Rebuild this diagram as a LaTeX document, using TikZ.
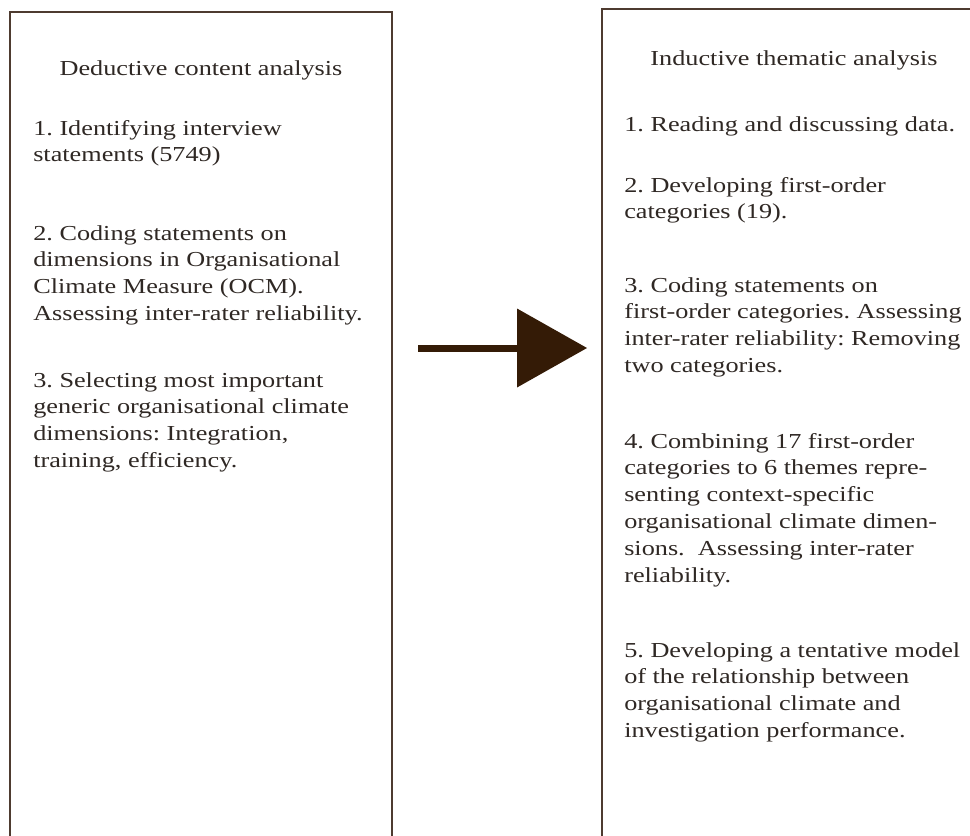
\documentclass[tikz,border=0pt]{standalone}
\usepackage{fontspec}
\setmainfont{Liberation Serif}[FakeStretch=1.23]
\usetikzlibrary{arrows.meta}
\definecolor{framebrown}{HTML}{4E3B30}
\definecolor{arrowbrown}{HTML}{341B06}
\definecolor{inkgray}{HTML}{2F2824}
\begin{document}
\frenchspacing
\begin{tikzpicture}[x=0.75pt,y=-0.75pt,
  panel/.style={draw=framebrown, line width=1.5pt, fill=white, inner sep=0pt, anchor=north west},
  ln/.style={anchor=base west, inner sep=0pt, text=inkgray, font=\fontsize{16pt}{20pt}\selectfont},
  head/.style={anchor=base, inner sep=0pt, text=inkgray, font=\fontsize{16pt}{20pt}\selectfont},
  flow/.style={draw=arrowbrown, line width=5.25pt,
    -{Triangle[length=52.5pt,width=59.25pt,line width=0pt]}}]
\useasboundingbox (0,0) rectangle (970,835);
\clip (0,0) rectangle (970,835);

% the two analysis panels (both run past the lower edge)
\node[panel, minimum width=286.5pt, minimum height=644pt] (deductive) at (9,11) {};
\node[panel, minimum width=300pt, minimum height=644pt] (inductive) at (601,8) {};

% left panel: deductive content analysis
\node[head] (dtitle) at (201,75) {Deductive content analysis};
\node[ln] (d1a) at (33,135.0) {1. Identifying interview};
\node[ln] (d1b) at (33,161.9) {statements (5749)};
\node[ln] (d2a) at (33,240.0) {2. Coding statements on};
\node[ln] (d2b) at (33,266.9) {dimensions in Organisational};
\node[ln] (d2c) at (33,293.8) {Climate Measure (OCM).};
\node[ln] (d2d) at (33,320.7) {Assessing inter-rater reliability.};
\node[ln] (d3a) at (33,387.0) {3. Selecting most important};
\node[ln] (d3b) at (33,413.9) {generic organisational climate};
\node[ln] (d3c) at (33,440.8) {dimensions: Integration,};
\node[ln] (d3d) at (33,467.7) {training, efficiency.};

% right panel: inductive thematic analysis
\node[head] (ititle) at (794,65) {Inductive thematic analysis};
\node[ln] (i1a) at (624,131.0) {1. Reading and discussing data.};
\node[ln] (i2a) at (624,192.0) {2. Developing first-order};
\node[ln] (i2b) at (624,218.9) {categories (19).};
\node[ln] (i3a) at (624,292.0) {3. Coding statements on};
\node[ln] (i3b) at (624,318.9) {first-order categories. Assessing};
\node[ln] (i3c) at (624,345.8) {inter-rater reliability: Removing};
\node[ln] (i3d) at (624,372.7) {two categories.};
\node[ln] (i4a) at (624,448.0) {4. Combining 17 first-order};
\node[ln] (i4b) at (624,474.9) {categories to 6 themes repre-};
\node[ln] (i4c) at (624,501.8) {senting context-specific};
\node[ln] (i4d) at (624,528.7) {organisational climate dimen-};
\node[ln] (i4e) at (624,555.6) {sions.\ \ Assessing inter-rater};
\node[ln] (i4f) at (624,582.5) {reliability.};
\node[ln] (i5a) at (624,657.0) {5. Developing a tentative model};
\node[ln] (i5b) at (624,683.9) {of the relationship between};
\node[ln] (i5c) at (624,710.8) {organisational climate and};
\node[ln] (i5d) at (624,737.7) {investigation performance.};

% transition arrow between the panels
\coordinate (flowstart) at (418,348);
\coordinate (flowend) at (587,348);
\draw[flow] (flowstart) -- (flowend);
\end{tikzpicture}
\end{document}
